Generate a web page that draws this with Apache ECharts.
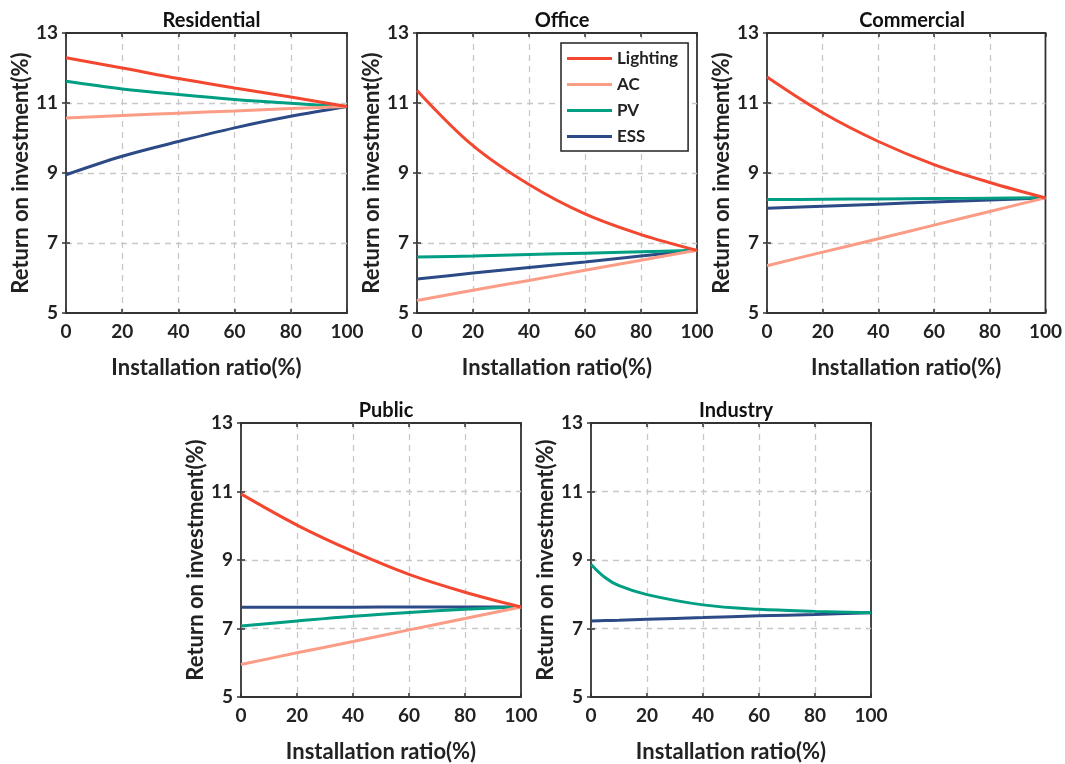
<!DOCTYPE html>
<html>
<head>
<meta charset="utf-8">
<script src="https://cdn.jsdelivr.net/npm/echarts@6/dist/echarts.min.js"></script>
<style>
html,body{margin:0;padding:0;background:#fff;}
#c{width:1065px;height:764px;}
</style>
</head>
<body>
<div id="c"></div>
<script>
// ---- data ----
var xs = [0, 20, 40, 60, 80, 100];
var industryX = [0, 5, 10, 20, 40, 60, 80, 100];
var xTicks = [0, 20, 40, 60, 80, 100];
var yTicks = [5, 7, 9, 11, 13];
var seriesNames = ['Lighting', 'AC', 'PV', 'ESS'];
var panelTitles = ['Residential', 'Office', 'Commercial', 'Public', 'Industry'];

var residentialLighting = [12.29, 12.00, 11.70, 11.43, 11.17, 10.90];
var residentialAC       = [10.57, 10.64, 10.71, 10.77, 10.84, 10.90];
var residentialPV       = [11.62, 11.40, 11.24, 11.10, 10.99, 10.90];
var residentialESS      = [8.95, 9.48, 9.90, 10.29, 10.62, 10.90];

var officeLighting = [11.36, 9.78, 8.67, 7.83, 7.24, 6.79];
var officeAC       = [5.36, 5.65, 5.93, 6.22, 6.51, 6.79];
var officePV       = [6.60, 6.63, 6.67, 6.71, 6.75, 6.79];
var officeESS      = [5.97, 6.14, 6.30, 6.46, 6.63, 6.79];

var commercialLighting = [11.74, 10.72, 9.90, 9.24, 8.73, 8.29];
var commercialAC       = [6.35, 6.74, 7.12, 7.51, 7.90, 8.29];
var commercialPV       = [8.24, 8.25, 8.26, 8.27, 8.28, 8.29];
var commercialESS      = [7.99, 8.05, 8.11, 8.17, 8.23, 8.29];

var publicLighting = [10.93, 10.02, 9.25, 8.58, 8.06, 7.63];
var publicAC       = [5.95, 6.29, 6.62, 6.96, 7.29, 7.63];
var publicPV       = [7.07, 7.22, 7.36, 7.47, 7.56, 7.63];
var publicESS      = [7.62, 7.62, 7.62, 7.63, 7.63, 7.63];

var industryPV  = [8.87, 8.49, 8.25, 7.99, 7.69, 7.56, 7.50, 7.46];
var industryESS = [7.22, 7.23, 7.24, 7.27, 7.32, 7.37, 7.41, 7.46];

// ---- layout / style ----
var colors = {Lighting:'#F4472F', AC:'#FB9C86', PV:'#009E82', ESS:'#2C4A86'};
var grids = [
  {left:66,  top:33,  width:281, height:280},
  {left:417, top:33,  width:280, height:280},
  {left:767, top:33,  width:280, height:280},
  {left:241, top:423, width:280, height:279},
  {left:591, top:423, width:280, height:279}
];
var panels = [
  {x: xs, d: {Lighting: residentialLighting, AC: residentialAC, PV: residentialPV, ESS: residentialESS}},
  {x: xs, d: {Lighting: officeLighting, AC: officeAC, PV: officePV, ESS: officeESS}},
  {x: xs, d: {Lighting: commercialLighting, AC: commercialAC, PV: commercialPV, ESS: commercialESS}},
  {x: xs, d: {Lighting: publicLighting, AC: publicAC, PV: publicPV, ESS: publicESS}},
  {x: industryX, d: {PV: industryPV, ESS: industryESS}}
];

var FONT = 'Lato, "Open Sans", sans-serif';
var txt = {fontFamily: FONT, fontWeight: 'bold', color: '#222'};

var option = {
  backgroundColor: '#fff',
  animation: false,
  title: [],
  grid: [],
  xAxis: [],
  yAxis: [],
  series: [],
  legend: {
    data: seriesNames.map(function(n){ return {name:n, icon:'rect'}; }),
    orient: 'vertical',
    left: 561, top: 43,
    itemWidth: 45, itemHeight: 3,
    itemGap: 9,
    padding: [7, 10, 6, 6],
    borderColor: '#222', borderWidth: 1.5,
    backgroundColor: '#fff',
    textStyle: {fontFamily: FONT, fontWeight: 'bold', color: '#222', fontSize: 17},
    z: 10
  }
};

grids.forEach(function(g, i){
  option.grid.push({left:g.left, top:g.top, width:g.width, height:g.height,
    show:true, borderColor:'#333', borderWidth:1.8, backgroundColor:'#fff'});
  option.title.push({
    text: panelTitles[i],
    left: g.left + g.width/2, top: g.top - 27,
    textAlign: 'center',
    textStyle: {fontFamily: FONT, fontWeight: 'bold', color: '#111', fontSize: 20}
  });
  var base = {
    gridIndex: i, type: 'value',
    axisLine: {show: false},
    axisTick: {show: true, inside: true, length: 4, lineStyle: {color:'#333', width:1.5}}
  };
  option.xAxis.push(Object.assign({}, base, {
    position: 'bottom', min: xTicks[0], max: xTicks[xTicks.length-1], interval: xTicks[1]-xTicks[0],
    name: 'Installation ratio(%)', nameLocation: 'middle', nameGap: 44,
    nameTextStyle: Object.assign({}, txt, {fontSize: 22}),
    axisLabel: Object.assign({}, txt, {margin: 9, fontSize: 19}),
    splitLine: {show: true, showMinLine: false, showMaxLine: false,
      lineStyle: {color:'#c8c8c8', type:[6,5], width:1.3}}
  }));
  option.xAxis.push(Object.assign({}, base, {
    position: 'top', min: xTicks[0], max: xTicks[xTicks.length-1], interval: xTicks[1]-xTicks[0],
    axisLabel: {show:false}, splitLine: {show:false}
  }));
  option.yAxis.push(Object.assign({}, base, {
    position: 'left', min: yTicks[0], max: yTicks[yTicks.length-1], interval: yTicks[1]-yTicks[0],
    name: 'Return on investment(%)', nameLocation: 'middle', nameGap: 33,
    nameTextStyle: Object.assign({}, txt, {fontSize: 22}),
    axisLabel: Object.assign({}, txt, {margin: 8, fontSize: 19}),
    splitLine: {show: true, showMinLine: false, showMaxLine: false,
      lineStyle: {color:'#c8c8c8', type:[6,5], width:1.3}}
  }));
  option.yAxis.push(Object.assign({}, base, {
    position: 'right', min: yTicks[0], max: yTicks[yTicks.length-1], interval: yTicks[1]-yTicks[0],
    axisLabel: {show:false}, splitLine: {show:false}
  }));
  var p = panels[i];
  ['ESS','PV','AC','Lighting'].forEach(function(n){
    if (!p.d[n]) return;
    option.series.push({
      name: n, type: 'line',
      xAxisIndex: i*2, yAxisIndex: i*2,
      data: p.x.map(function(x, k){ return [x, p.d[n][k]]; }),
      smooth: 0.35,
      symbol: 'none',
      lineStyle: {color: colors[n], width: 3},
      itemStyle: {color: colors[n]},
      z: 3
    });
  });
});

var chart = echarts.init(document.getElementById('c'), null, {renderer:'canvas'});
chart.setOption(option);
</script>
</body>
</html>
